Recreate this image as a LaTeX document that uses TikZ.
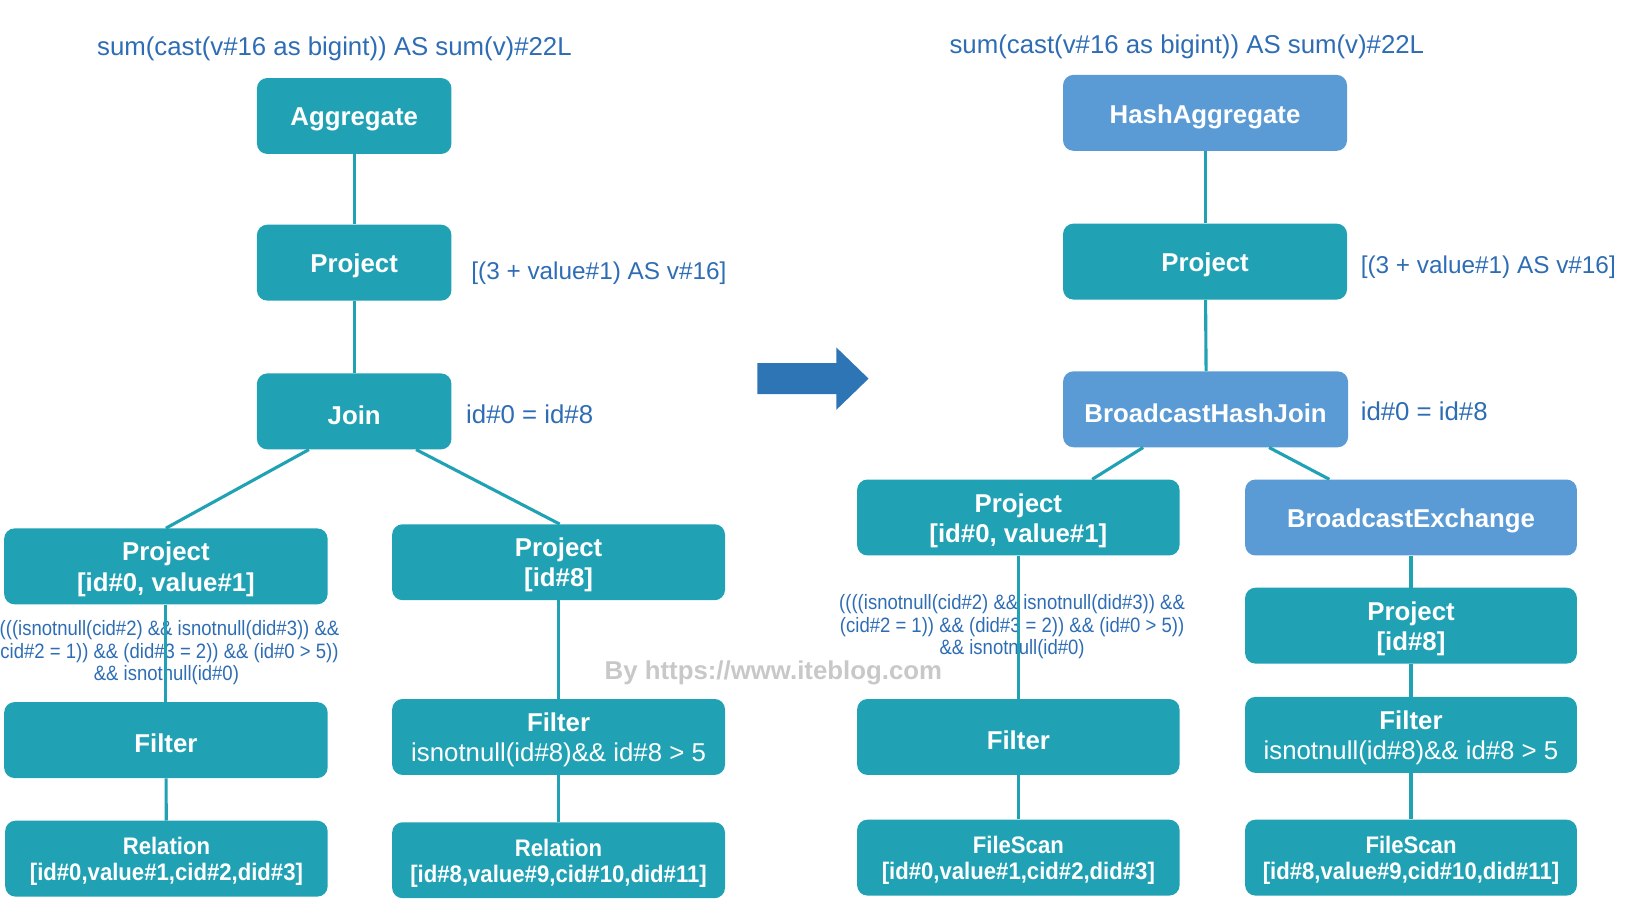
\documentclass[tikz,border=0pt]{standalone}
\usepackage{fontspec}
\setmainfont{Liberation Sans}
\usepackage{graphicx}
\definecolor{teal1}{HTML}{21A2B4}
\definecolor{lblue}{HTML}{5B9BD5}
\definecolor{tblue}{HTML}{2E6DB4}
\definecolor{arrowblue}{HTML}{2E75B6}
\definecolor{wmgray}{HTML}{C8C8C8}
\newcommand{\bt}[1]{\raisebox{-3.5pt}[\height][\depth]{#1}}
\newcommand{\twoline}[2]{\bt{\begin{tabular}{@{}c@{}}#1\\\relax #2\end{tabular}}}
\newcommand{\scanbox}[2]{\bt{\scalebox{0.925}[1]{\fontsize{23}{25}\selectfont\bfseries\begin{tabular}{@{}c@{}}#1\\\relax #2\end{tabular}}}}
\newcommand{\condtext}[3]{\scalebox{0.89}[1]{\fontsize{20}{21.5}\selectfont\begin{tabular}{@{}c@{}}#1\\\relax #2\\\relax #3\end{tabular}}}
\begin{document}
\begin{tikzpicture}[x=1pt,y=-1pt,
  box/.style={rounded corners=10pt, minimum height=73pt, inner sep=0pt, text=white,
    font=\fontsize{24.8}{29}\selectfont\bfseries, align=center},
  tealbox/.style={box, fill=teal1},
  bluebox/.style={box, fill=lblue},
  conn/.style={draw=teal1, line width=3pt},
  note/.style={text=tblue, font=\fontsize{24.8}{29}\selectfont, inner sep=0pt},
  smallnote/.style={note, font=\fontsize{23.4}{29}\selectfont},
  cond/.style={text=tblue, inner sep=0pt}]
\useasboundingbox (0,0) rectangle (1568,878);

% titles
\node[note] (ltitle) at (321.5,47) {sum(cast(v\#16 as bigint)) AS sum(v)\#22L};
\node[note] (rtitle) at (1141,45) {sum(cast(v\#16 as bigint)) AS sum(v)\#22L};

% left tree
\node[tealbox, minimum width=187pt] (agg) at (340.5,111.5) {\bt{Aggregate}};
\node[tealbox, minimum width=187pt] (proj) at (340.5,252.5) {\bt{Project}};
\node[tealbox, minimum width=187pt] (join) at (340.5,395.5) {\bt{Join}};
\node[tealbox, minimum width=311pt] (lp1) at (159.5,544.5) {\twoline{Project}{[id\#0, value\#1]}};
\node[tealbox, minimum width=320pt] (rp1) at (537,540.5) {\twoline{Project}{[id\#8]}};
\node[tealbox, minimum width=311pt] (lf) at (159.5,711.5) {\bt{Filter}};
\node[tealbox, minimum width=320pt] (rf) at (537,708.5) {\twoline{Filter}{\mdseries isnotnull(id\#8)\&\& id\#8 > 5}};
\node[tealbox, minimum width=310pt] (lr) at (160,825.5) {\scanbox{Relation}{[id\#0,value\#1,cid\#2,did\#3]}};
\node[tealbox, minimum width=320pt] (rr) at (537,827) {\scanbox{Relation}{[id\#8,value\#9,cid\#10,did\#11]}};

\node[smallnote, anchor=west] (lprojnote) at (453,263) {[(3 + value\#1) AS v\#16]};
\node[note, anchor=west] (ljoinnote) at (448,398) {id\#0 = id\#8};
\node[cond] (lcond) at (160,628.5) {\condtext{\hphantom{(}(((isnotnull(cid\#2) \&\& isnotnull(did\#3)) \&\&}{\hphantom{(}cid\#2 = 1)) \&\& (did\#3 = 2)) \&\& (id\#0 > 5))}{\&\& isnotnull(id\#0)}};

% watermark
\node[text=wmgray, font=\fontsize{24.8}{29}\selectfont\bfseries, inner sep=0pt] (wm) at (743.5,647) {By https://www.iteblog.com};

% transformation arrow
\fill[arrowblue] (728,349) -- (804,349) -- (804,334) -- (835,364) -- (804,394) -- (804,379) -- (728,379) -- cycle;

% right tree
\node[bluebox, minimum width=273pt] (hagg) at (1158.5,108.5) {\bt{HashAggregate}};
\node[tealbox, minimum width=273pt] (rproj) at (1158.5,251.5) {\bt{Project}};
\node[bluebox, minimum width=274pt] (bhj) at (1159,393.5) {\bt{BroadcastHashJoin}};
\node[tealbox, minimum width=310pt] (rp2) at (979,497.5) {\twoline{Project}{[id\#0, value\#1]}};
\node[bluebox, minimum width=319pt] (bex) at (1356.5,497.5) {\bt{BroadcastExchange}};
\node[tealbox, minimum width=319pt] (p8) at (1356.5,601.5) {\twoline{Project}{[id\#8]}};
\node[tealbox, minimum width=310pt] (f2) at (979,708.5) {\bt{Filter}};
\node[tealbox, minimum width=319pt] (f8) at (1356.5,706.5) {\twoline{Filter}{\mdseries isnotnull(id\#8)\&\& id\#8 > 5}};
\node[tealbox, minimum width=310pt] (fs1) at (979,824.5) {\scanbox{FileScan}{[id\#0,value\#1,cid\#2,did\#3]}};
\node[tealbox, minimum width=319pt] (fs2) at (1356.5,824.5) {\scanbox{FileScan}{[id\#8,value\#9,cid\#10,did\#11]}};

\node[smallnote, anchor=west] (rprojnote) at (1308,257) {[(3 + value\#1) AS v\#16]};
\node[note, anchor=west] (rjoinnote) at (1308,395) {id\#0 = id\#8};
\node[cond] (rcond) at (973,603.5) {\condtext{((((isnotnull(cid\#2) \&\& isnotnull(did\#3)) \&\&}{(cid\#2 = 1)) \&\& (did\#3 = 2)) \&\& (id\#0 > 5))}{\&\& isnotnull(id\#0)}};

% connectors left
\draw[conn] (agg) -- (proj);
\draw[conn] (proj) -- (join);
\draw[conn] ([xshift=-43.5pt]join.south) -- (lp1.north);
\draw[conn] ([xshift=59.5pt]join.south) -- ([xshift=1pt]rp1.north);
\draw[conn] (lp1) -- (lf);
\draw[conn] (rp1) -- (rf);
\draw[conn] (lf) -- (lr);
\draw[conn] (rf) -- (rr);

% connectors right
\draw[conn] (hagg) -- (rproj);
\draw[conn] ([xshift=0.5pt]rproj.south) -- ([xshift=0.5pt]bhj.north);
\draw[conn] ([xshift=-60pt]bhj.south) -- ([xshift=71pt]rp2.north);
\draw[conn] ([xshift=61pt]bhj.south) -- ([xshift=-78.5pt]bex.north);
\draw[conn] (rp2) -- (f2);
\draw[conn] (bex) -- (p8);
\draw[conn] (p8) -- (f8);
\draw[conn] (f2) -- (fs1);
\draw[conn] (f8) -- (fs2);
\end{tikzpicture}
\end{document}
